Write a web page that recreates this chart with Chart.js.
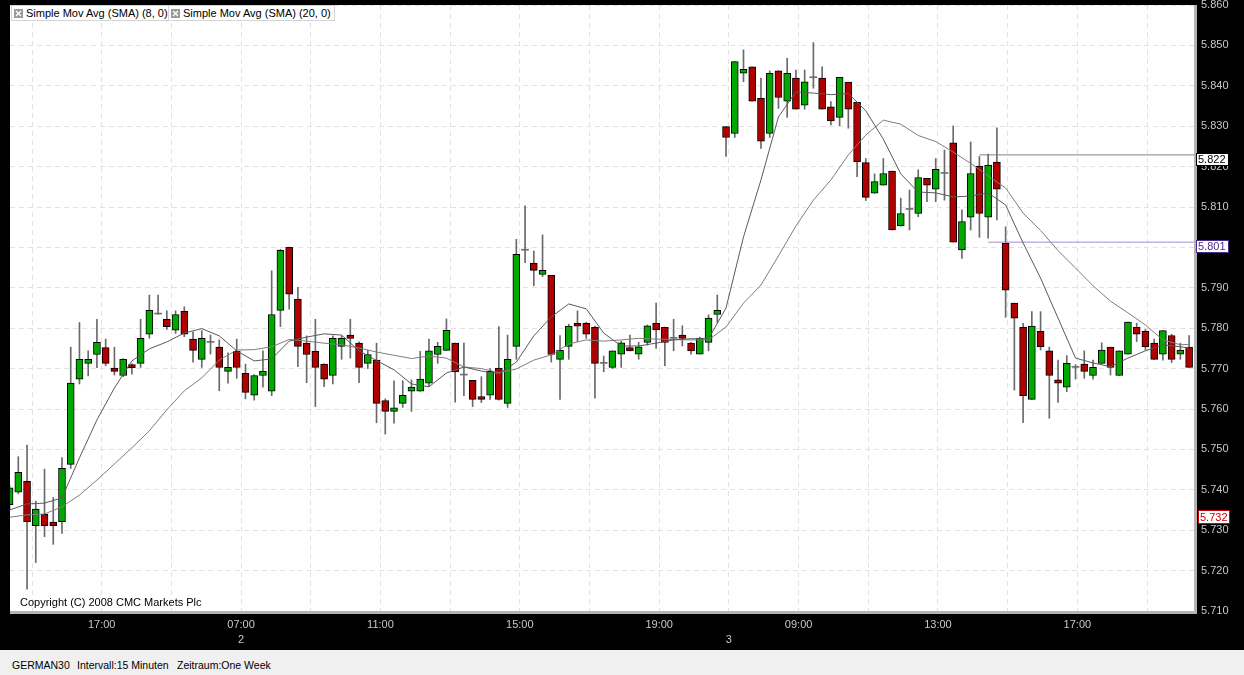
<!DOCTYPE html>
<html lang="de">
<head>
<meta charset="UTF-8" />
<title>GERMAN30 15 Minuten</title>
<script src="https://cdn.jsdelivr.net/npm/chart.js@4.4.1/dist/chart.umd.min.js"></script>
<style>
  html, body { margin: 0; padding: 0; width: 1244px; height: 675px; overflow: hidden; background: #000;
    font-family: "Liberation Sans", Arial, sans-serif; font-size: 11px; }
  #wrap { position: relative; width: 1244px; height: 650px; }
  #chart { display: block; background: #000; }
  .lg { position: absolute; top: 5px; height: 14px; line-height: 14px; background: #fff;
    border: 1px solid #d4d4d4; padding: 0 3px 0 14px; color: #000; white-space: nowrap; }
  .lg svg { position: absolute; left: 2px; top: 3px; }
  #copy { position: absolute; left: 20px; top: 596px; color: #000; }
  #foot { position: absolute; left: 0; top: 650px; width: 1244px; height: 25px; background: #f0f0f0; color: #000; }
  #foot span { position: absolute; top: 9px; line-height: 13px; font-size: 10.5px; white-space: nowrap; }
</style>
</head>
<body>
<div id="wrap">
  <canvas id="chart" width="1244" height="650"></canvas>
  <div class="lg" style="left:11px"><svg width="9" height="9"><rect width="9" height="9" fill="#9a9a9a"/><path d="M2 2L7 7M7 2L2 7" stroke="#fff" stroke-width="1.3"/></svg>Simple Mov Avg (SMA) (8, 0)</div>
  <div class="lg" style="left:168px"><svg width="9" height="9"><rect width="9" height="9" fill="#9a9a9a"/><path d="M2 2L7 7M7 2L2 7" stroke="#fff" stroke-width="1.3"/></svg>Simple Mov Avg (SMA) (20, 0)</div>
  <div id="copy">Copyright (C) 2008 CMC Markets Plc</div>
</div>
<div id="foot"><span style="left:12px">GERMAN30</span><span style="left:77px">Intervall:15 Minuten</span><span style="left:177px">Zeitraum:One Week</span></div>

<script>
// 15-Minuten-Kerzen, von links nach rechts (Index 0 = erste sichtbare Kerze)
const opens = [
  5.7363, 5.7394, 5.7421, 5.7311, 5.7339, 5.7320, 5.7321, 5.7463, 5.7674, 5.7713,
  5.7735, 5.7752, 5.7701, 5.7683, 5.7710, 5.7713, 5.7785, 5.7835, 5.7822, 5.7795,
  5.7842, 5.7773, 5.7723, 5.7765, 5.7753, 5.7693, 5.7743, 5.7688, 5.7634, 5.7683,
  5.7644, 5.7844, 5.8000, 5.7872, 5.7763, 5.7743, 5.7711, 5.7683, 5.7755, 5.7783,
  5.7763, 5.7713, 5.7721, 5.7621, 5.7594, 5.7614, 5.7644, 5.7644, 5.7664, 5.7735,
  5.7745, 5.7763, 5.7684, 5.7671, 5.7631, 5.7634, 5.7701, 5.7614, 5.7755, 5.7993,
  5.7961, 5.7933, 5.7931, 5.7723, 5.7755, 5.7812, 5.7812, 5.7802, 5.7713, 5.7703,
  5.7736, 5.7752, 5.7736, 5.7765, 5.7812, 5.7802, 5.7775, 5.7783, 5.7763, 5.7736,
  5.7765, 5.7834, 5.8299, 5.8282, 5.8431, 5.8447, 5.8369, 5.8282, 5.8437, 5.8362,
  5.8419, 5.8352, 5.8420, 5.8419, 5.8348, 5.8322, 5.8409, 5.8359, 5.8210, 5.8134,
  5.8154, 5.8189, 5.8053, 5.8094, 5.8084, 5.8171, 5.8144, 5.8183, 5.8259, 5.7994,
  5.8075, 5.8201, 5.8075, 5.8211, 5.8010, 5.7862, 5.7802, 5.7624, 5.7792, 5.7744,
  5.7672, 5.7654, 5.7703, 5.7711, 5.7683, 5.7713, 5.7753, 5.7683, 5.7736, 5.7802,
  5.7792, 5.7763, 5.7736, 5.7782, 5.7736, 5.7753
];
const highs = [
  5.7410, 5.7482, 5.7511, 5.7372, 5.7451, 5.7381, 5.7480, 5.7753, 5.7814, 5.7744,
  5.7822, 5.7773, 5.7753, 5.7725, 5.7712, 5.7822, 5.7882, 5.7882, 5.7843, 5.7843,
  5.7853, 5.7791, 5.7794, 5.7783, 5.7771, 5.7739, 5.7773, 5.7711, 5.7685, 5.7744,
  5.7942, 5.7995, 5.8001, 5.7901, 5.7781, 5.7822, 5.7712, 5.7781, 5.7781, 5.7822,
  5.7766, 5.7745, 5.7763, 5.7625, 5.7670, 5.7670, 5.7672, 5.7743, 5.7773, 5.7765,
  5.7823, 5.7763, 5.7763, 5.7671, 5.7680, 5.7700, 5.7804, 5.7783, 5.8020, 5.8103,
  5.7991, 5.8031, 5.7931, 5.7782, 5.7810, 5.7843, 5.7815, 5.7805, 5.7731, 5.7744,
  5.7768, 5.7783, 5.7765, 5.7808, 5.7862, 5.7803, 5.7822, 5.7806, 5.7765, 5.7778,
  5.7833, 5.7882, 5.8299, 5.8460, 5.8489, 5.8447, 5.8419, 5.8437, 5.8437, 5.8468,
  5.8439, 5.8439, 5.8507, 5.8447, 5.8361, 5.8421, 5.8409, 5.8359, 5.8220, 5.8182,
  5.8220, 5.8189, 5.8122, 5.8142, 5.8192, 5.8171, 5.8220, 5.8241, 5.8301, 5.8093,
  5.8261, 5.8225, 5.8231, 5.8296, 5.8051, 5.7862, 5.7812, 5.7841, 5.7841, 5.7753,
  5.7721, 5.7732, 5.7710, 5.7744, 5.7721, 5.7764, 5.7753, 5.7744, 5.7815, 5.7812,
  5.7797, 5.7773, 5.7794, 5.7785, 5.7763, 5.7782
];
const lows = [
  5.7350, 5.7390, 5.7154, 5.7220, 5.7284, 5.7265, 5.7292, 5.7453, 5.7662, 5.7682,
  5.7702, 5.7707, 5.7684, 5.7680, 5.7686, 5.7703, 5.7775, 5.7835, 5.7797, 5.7787,
  5.7779, 5.7716, 5.7703, 5.7736, 5.7645, 5.7664, 5.7676, 5.7625, 5.7622, 5.7654,
  5.7633, 5.7804, 5.7847, 5.7705, 5.7665, 5.7606, 5.7655, 5.7662, 5.7723, 5.7726,
  5.7665, 5.7700, 5.7566, 5.7538, 5.7565, 5.7604, 5.7594, 5.7644, 5.7655, 5.7713,
  5.7745, 5.7617, 5.7633, 5.7606, 5.7616, 5.7624, 5.7622, 5.7604, 5.7723, 5.7962,
  5.7905, 5.7928, 5.7716, 5.7624, 5.7723, 5.7767, 5.7775, 5.7627, 5.7692, 5.7700,
  5.7703, 5.7744, 5.7723, 5.7758, 5.7750, 5.7707, 5.7744, 5.7756, 5.7736, 5.7736,
  5.7744, 5.7814, 5.8225, 5.8272, 5.8410, 5.8362, 5.8245, 5.8272, 5.8344, 5.8322,
  5.8342, 5.8342, 5.8394, 5.8342, 5.8303, 5.8301, 5.8295, 5.8175, 5.8116, 5.8134,
  5.8154, 5.8043, 5.8053, 5.8043, 5.8076, 5.8113, 5.8113, 5.8117, 5.8013, 5.7973,
  5.8043, 5.8025, 5.8023, 5.8068, 5.7827, 5.7647, 5.7566, 5.7624, 5.7746, 5.7577,
  5.7616, 5.7643, 5.7674, 5.7676, 5.7674, 5.7713, 5.7684, 5.7683, 5.7736, 5.7767,
  5.7746, 5.7723, 5.7721, 5.7715, 5.7723, 5.7703
];
const closes = [
  5.7405, 5.7443, 5.7321, 5.7352, 5.7311, 5.7311, 5.7453, 5.7664, 5.7723, 5.7723,
  5.7765, 5.7713, 5.7693, 5.7723, 5.7702, 5.7775, 5.7844, 5.7835, 5.7804, 5.7834,
  5.7785, 5.7745, 5.7775, 5.7765, 5.7703, 5.7703, 5.7703, 5.7641, 5.7683, 5.7693,
  5.7834, 5.7993, 5.7884, 5.7755, 5.7735, 5.7703, 5.7674, 5.7775, 5.7775, 5.7775,
  5.7703, 5.7735, 5.7614, 5.7594, 5.7603, 5.7634, 5.7654, 5.7674, 5.7744, 5.7755,
  5.7795, 5.7692, 5.7684, 5.7624, 5.7624, 5.7693, 5.7624, 5.7723, 5.7983, 5.7993,
  5.7943, 5.7943, 5.7735, 5.7745, 5.7805, 5.7805, 5.7785, 5.7713, 5.7713, 5.7744,
  5.7764, 5.7744, 5.7754, 5.7806, 5.7796, 5.7765, 5.7775, 5.7775, 5.7744, 5.7775,
  5.7825, 5.7844, 5.8272, 5.8460, 5.8441, 5.8362, 5.8263, 5.8431, 5.8371, 5.8431,
  5.8342, 5.8410, 5.8420, 5.8342, 5.8313, 5.8421, 5.8342, 5.8212, 5.8124, 5.8163,
  5.8183, 5.8043, 5.8084, 5.8094, 5.8173, 5.8154, 5.8193, 5.8183, 5.8013, 5.8064,
  5.8183, 5.8084, 5.8203, 5.8144, 5.7894, 5.7825, 5.7633, 5.7805, 5.7754, 5.7683,
  5.7664, 5.7713, 5.7703, 5.7693, 5.7703, 5.7746, 5.7703, 5.7744, 5.7815, 5.7785,
  5.7754, 5.7723, 5.7794, 5.7723, 5.7746, 5.7703
];

// gleitende Durchschnitte (Kerzenindex -> Wert)
const smaIdx = [
  0, 2, 4, 6, 8, 10, 12, 14, 16, 18, 20, 22, 24, 26, 28, 30, 32, 34, 36, 38,
  40, 42, 44, 46, 48, 50, 52, 54, 56, 58, 60, 62, 64, 66, 68, 70, 72, 74, 76, 78,
  80, 82, 84, 86, 88, 90, 92, 94, 96, 98, 100, 102, 104, 106, 108, 110, 112, 114, 116, 118,
  120, 122, 124, 126, 128, 130, 132, 134, 135
];
const sma8 = [
  5.7350, 5.7365, 5.7367, 5.7380, 5.7479, 5.7573, 5.7652, 5.7719, 5.7749, 5.7766,
  5.7788, 5.7799, 5.7781, 5.7744, 5.7719, 5.7724, 5.7768, 5.7778, 5.7786, 5.7783,
  5.7744, 5.7720, 5.7697, 5.7662, 5.7655, 5.7689, 5.7704, 5.7694, 5.7687, 5.7716,
  5.7781, 5.7828, 5.7860, 5.7848, 5.7788, 5.7756, 5.7756, 5.7763, 5.7771, 5.7774,
  5.7774, 5.7850, 5.8026, 5.8167, 5.8323, 5.8385, 5.8382, 5.8378, 5.8381, 5.8338,
  5.8268, 5.8182, 5.8137, 5.8135, 5.8125, 5.8127, 5.8135, 5.8105, 5.8011, 5.7924,
  5.7825, 5.7726, 5.7714, 5.7705, 5.7726, 5.7744, 5.7759, 5.7754, 5.7751
];
const sma20 = [
  5.7332, 5.7338, 5.7340, 5.7358, 5.7387, 5.7424, 5.7464, 5.7504, 5.7546, 5.7598,
  5.7645, 5.7677, 5.7721, 5.7746, 5.7747, 5.7754, 5.7772, 5.7768, 5.7763, 5.7759,
  5.7751, 5.7741, 5.7733, 5.7725, 5.7731, 5.7726, 5.7704, 5.7700, 5.7690, 5.7699,
  5.7721, 5.7734, 5.7761, 5.7771, 5.7768, 5.7771, 5.7775, 5.7773, 5.7772, 5.7771,
  5.7771, 5.7803, 5.7862, 5.7907, 5.7979, 5.8053, 5.8117, 5.8167, 5.8229, 5.8278,
  5.8315, 5.8305, 5.8277, 5.8262, 5.8236, 5.8208, 5.8177, 5.8147, 5.8085, 5.8042,
  5.7992, 5.7949, 5.7905, 5.7867, 5.7838, 5.7808, 5.7771, 5.7759, 5.7760
];

// horizontale Linien und Preismarken
const refLevels = [5.8229, 5.8013];
const refLabels = ['5.822', '5.801'];
const refStart = [111, 112];
const lastLevel = 5.7333;
const lastLabel = '5.732';

// Achsenbeschriftung
const xTimeLabels = ['', '17:00', '', '07:00', '', '11:00', '', '15:00', '', '19:00', '', '09:00', '', '13:00', '', '17:00', ''];
const xDayLabels = ['', '', '', '2', '', '', '', '', '', '', '3', '', '', '', '', '', ''];
const yTickValues = [5.710, 5.720, 5.730, 5.740, 5.750, 5.760, 5.770, 5.780, 5.790, 5.800, 5.810, 5.820, 5.830, 5.840, 5.850, 5.860];

const FONT = '"Liberation Sans", Arial, sans-serif';
Chart.defaults.font.family = FONT;
Chart.defaults.font.size = 11;

const up = '#00a800', down = '#b00000', flat = '#6e6e6e';
const idx = closes.map((c, i) => i);
const isDoji = closes.map((c, i) => c === opens[i]);

function priceBox(ctx, x, top, w, h, text, color) {
  ctx.fillStyle = '#fff';
  ctx.fillRect(x, top, w, h);
  ctx.strokeStyle = color;
  ctx.lineWidth = 1;
  ctx.strokeRect(x + 0.5, top + 0.5, w - 1, h - 1);
  ctx.fillStyle = color;
  ctx.fillText(text, x + 2, top + h / 2 + 0.5);
}

const frame = {
  id: 'frame',
  beforeDraw(chart) {
    const { ctx, chartArea: a } = chart;
    ctx.save();
    ctx.fillStyle = '#fff';
    ctx.fillRect(a.left, a.top, a.right - a.left, a.bottom - a.top);
    ctx.restore();
  },
  afterDraw(chart) {
    const { ctx, chartArea: a, scales: { y } } = chart;
    ctx.save();
    ctx.fillStyle = '#b4b4b4';
    ctx.fillRect(a.right, a.top, 3, a.bottom - a.top + 3);
    ctx.fillRect(a.left, a.bottom, a.right - a.left + 3, 3);
    ctx.font = '11px ' + FONT;
    ctx.textBaseline = 'middle';
    const tagColor = ['#000', '#4b2a8c'];
    refLevels.forEach((v, k) => {
      const py = Math.round(y.getPixelForValue(v));
      priceBox(ctx, a.right + 2, py - 2, 33, 13, refLabels[k], tagColor[k]);
    });
    const py = Math.round(y.getPixelForValue(lastLevel));
    priceBox(ctx, a.right + 4, py - 7, 32, 14, lastLabel, '#d00000');
    ctx.restore();
  }
};

new Chart(document.getElementById('chart'), {
  type: 'bar',
  data: {
    datasets: [
      {
        type: 'line', label: 'SMA (8, 0)',
        data: smaIdx.map((x, k) => ({ x, y: sma8[k] })),
        borderColor: '#5a5a5a', borderWidth: 1, pointRadius: 0, tension: 0, order: 0
      },
      {
        type: 'line', label: 'SMA (20, 0)',
        data: smaIdx.map((x, k) => ({ x, y: sma20[k] })),
        borderColor: '#7e7e7e', borderWidth: 1, pointRadius: 0, tension: 0, order: 0
      },
      {
        type: 'line', label: refLabels[0],
        data: [{ x: refStart[0], y: refLevels[0] }, { x: idx.length, y: refLevels[0] }],
        borderColor: '#808080', borderWidth: 1, pointRadius: 0, order: 0
      },
      {
        type: 'line', label: refLabels[1],
        data: [{ x: refStart[1], y: refLevels[1] }, { x: idx.length, y: refLevels[1] }],
        borderColor: '#a58bd0', borderWidth: 1, pointRadius: 0, order: 0
      },
      {
        label: 'Kerzen',
        data: idx.map(i => ({ x: i, y: [opens[i], closes[i]] })),
        backgroundColor: idx.map(i => isDoji[i] ? flat : (closes[i] > opens[i] ? up : down)),
        borderColor: idx.map(i => isDoji[i] ? flat : '#000'),
        borderWidth: idx.map(i => isDoji[i] ? 0 : 1),
        borderSkipped: false,
        barThickness: 7,
        minBarLength: 1,
        grouped: false,
        order: 1
      },
      {
        label: 'Dochte',
        data: idx.map(i => ({ x: i, y: [lows[i], highs[i]] })),
        backgroundColor: '#6a6a6a',
        borderWidth: 0,
        barThickness: 1,
        grouped: false,
        order: 2
      }
    ]
  },
  options: {
    responsive: false,
    animation: false,
    events: [],
    layout: { padding: { left: 10, top: 5, right: 0, bottom: 0 } },
    plugins: { legend: { display: false }, tooltip: { enabled: false } },
    scales: {
      x: {
        type: 'linear', min: 0.05, max: 135.56, offset: false,
        grid: { offset: false, color: '#e2e2e2', drawTicks: false },
        border: { display: false, dash: [5, 4] },
        afterBuildTicks: s => { s.ticks = xTimeLabels.map((t, k) => ({ value: 2.57 + 7.976 * k })); },
        afterFit: s => { s.height = 39; s.paddingLeft = 0; s.paddingRight = 0; },
        ticks: {
          autoSkip: false, maxRotation: 0, minRotation: 0, padding: 6, color: '#c8c8c8',
          font: { size: 11, lineHeight: '15px' },
          callback: (v, k) => [xTimeLabels[k], xDayLabels[k]]
        }
      },
      y: {
        position: 'right', min: 5.71, max: 5.86,
        grid: { color: '#e2e2e2', drawTicks: false },
        border: { display: false, dash: [5, 4] },
        afterBuildTicks: s => { s.ticks = yTickValues.map(value => ({ value })); },
        afterFit: s => { s.width = 50; s.paddingTop = 0; s.paddingBottom = 0; },
        ticks: { padding: 7, color: '#c8c8c8', font: { size: 11 }, callback: v => v.toFixed(3) }
      }
    }
  },
  plugins: [frame]
});
</script>
</body>
</html>
